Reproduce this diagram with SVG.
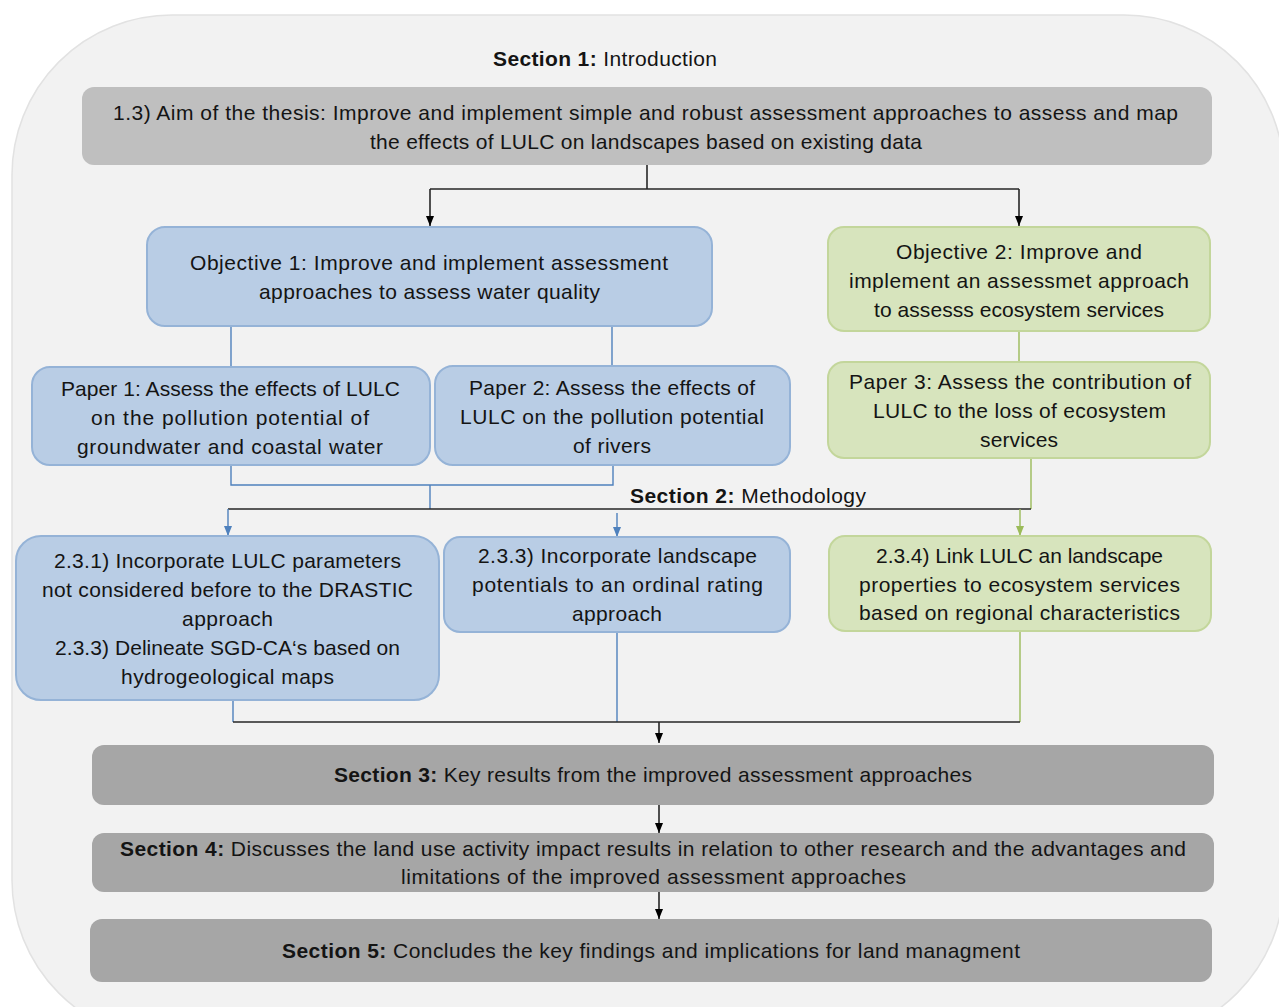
<svg xmlns="http://www.w3.org/2000/svg" width="1279" height="1007" viewBox="0 0 1279 1007">
  <style>
    .t { font-family: "Liberation Sans", Arial, sans-serif; font-size: 21px; fill: #141414; }
    .b { font-weight: bold; }
    .grey { fill: #bfbfbf; }
    .dark { fill: #a6a6a6; }
    .blue { fill: #b9cde5; stroke: #95b3d7; stroke-width: 2; }
    .green { fill: #d7e4bd; stroke: #c3d69b; stroke-width: 2; }
    .cb { fill: none; stroke: #262626; stroke-width: 1.6; }
    .cblue { fill: none; stroke: #4f81bd; stroke-width: 1.4; }
    .cgreen { fill: none; stroke: #9bbb59; stroke-width: 1.4; }
  </style>
  <defs>
    <marker id="ah-black" markerUnits="userSpaceOnUse" markerWidth="10" markerHeight="10" viewBox="0 0 10 10" refX="10" refY="5" orient="auto">
      <path d="M0,1 L10,5 L0,9 z" fill="#000"/>
    </marker>
    <marker id="ah-blue" markerUnits="userSpaceOnUse" markerWidth="10" markerHeight="10" viewBox="0 0 10 10" refX="10" refY="5" orient="auto">
      <path d="M0,1 L10,5 L0,9 z" fill="#4f81bd"/>
    </marker>
    <marker id="ah-green" markerUnits="userSpaceOnUse" markerWidth="10" markerHeight="10" viewBox="0 0 10 10" refX="10" refY="5" orient="auto">
      <path d="M0,1 L10,5 L0,9 z" fill="#9bbb59"/>
    </marker>
  </defs>

  <rect width="1279" height="1007" fill="#ffffff"/>
  <!-- rounded backdrop panel -->
  <rect id="panel" x="12" y="15" width="1272" height="1025" rx="160" ry="160" fill="#f2f2f2" stroke="#e2e2e2" stroke-width="1.5"/>

  <g id="section1-title">
    <text class="t" x="493" y="66" textLength="224"><tspan class="b">Section 1:</tspan> Introduction</text>
  </g>

  <g id="connectors">
    <!-- aim to objectives -->
    <path class="cb" d="M647,165 V189"/>
    <path class="cb" d="M430,189 H1019"/>
    <path class="cb" d="M430,189 V226" marker-end="url(#ah-black)"/>
    <path class="cb" d="M1019,189 V226" marker-end="url(#ah-black)"/>
    <!-- objective 1 to papers -->
    <path class="cblue" d="M231,326 V367"/>
    <path class="cblue" d="M612,326 V366"/>
    <!-- objective 2 to paper 3 -->
    <path class="cgreen" d="M1019,331 V362"/>
    <!-- papers to methodology -->
    <path class="cblue" d="M231,465 V485 H613 V465"/>
    <path class="cblue" d="M430,485 V509"/>
    <path class="cgreen" d="M1031,458 V509"/>
    <path class="cb" d="M228,509 H1031"/>
    <path class="cblue" d="M228,509 V536" marker-end="url(#ah-blue)"/>
    <path class="cblue" d="M617,513 V537" marker-end="url(#ah-blue)"/>
    <path class="cgreen" d="M1020,509 V536" marker-end="url(#ah-green)"/>
    <!-- methodology to results -->
    <path class="cblue" d="M233,700 V722"/>
    <path class="cblue" d="M617,632 V722"/>
    <path class="cgreen" d="M1020,631 V722"/>
    <path class="cb" d="M233,722 H1020"/>
    <path class="cb" d="M659,722 V743" marker-end="url(#ah-black)"/>
    <path class="cb" d="M659,805 V833" marker-end="url(#ah-black)"/>
    <path class="cb" d="M659,892 V919" marker-end="url(#ah-black)"/>
  </g>

  <g id="aim">
    <rect class="grey" x="82" y="87" width="1130" height="78" rx="12"/>
    <text class="t" x="113" y="120" textLength="1065">1.3) Aim of the thesis: Improve and implement simple and robust assessment approaches to assess and map</text>
    <text class="t" x="370" y="149" textLength="552">the effects of LULC on landscapes based on existing data</text>
  </g>

  <g id="objective1">
    <rect class="blue" x="147" y="227" width="565" height="99" rx="18"/>
    <text class="t" x="190" y="270" textLength="478">Objective 1: Improve and implement assessment</text>
    <text class="t" x="259" y="299" textLength="341">approaches to assess water quality</text>
  </g>

  <g id="objective2">
    <rect class="green" x="828" y="227" width="382" height="104" rx="16"/>
    <text class="t" x="896" y="259" textLength="246">Objective 2: Improve and</text>
    <text class="t" x="849" y="288" textLength="340">implement an assessmet approach</text>
    <text class="t" x="874" y="317" textLength="290">to assesss ecosystem services</text>
  </g>

  <g id="paper1">
    <rect class="blue" x="32" y="367" width="398" height="98" rx="18"/>
    <text class="t" x="61" y="396" textLength="339">Paper 1: Assess the effects of LULC</text>
    <text class="t" x="91" y="425" textLength="278">on the pollution potential of</text>
    <text class="t" x="77" y="454" textLength="306">groundwater and coastal water</text>
  </g>

  <g id="paper2">
    <rect class="blue" x="435" y="366" width="355" height="99" rx="18"/>
    <text class="t" x="469" y="395" textLength="286">Paper 2: Assess the effects of</text>
    <text class="t" x="460" y="424" textLength="304">LULC on the pollution potential</text>
    <text class="t" x="573" y="453" textLength="78">of rivers</text>
  </g>

  <g id="paper3">
    <rect class="green" x="828" y="362" width="382" height="96" rx="16"/>
    <text class="t" x="849" y="389" textLength="342">Paper 3: Assess the contribution of</text>
    <text class="t" x="873" y="418" textLength="293">LULC to the loss of  ecosystem</text>
    <text class="t" x="980" y="447" textLength="78">services</text>
  </g>

  <g id="section2-title">
    <text class="t" x="630" y="503" textLength="236"><tspan class="b">Section 2:</tspan> Methodology</text>
  </g>

  <g id="method-231">
    <rect class="blue" x="16" y="536" width="423" height="164" rx="25"/>
    <text class="t" x="54" y="568" textLength="347">2.3.1) Incorporate LULC parameters</text>
    <text class="t" x="42" y="597" textLength="371">not considered before to the DRASTIC</text>
    <text class="t" x="182" y="626" textLength="91">approach</text>
    <text class="t" x="55" y="655" textLength="345">2.3.3) Delineate SGD-CA‘s based on</text>
    <text class="t" x="121" y="684" textLength="213">hydrogeological maps</text>
  </g>

  <g id="method-233">
    <rect class="blue" x="444" y="537" width="346" height="95" rx="16"/>
    <text class="t" x="478" y="563" textLength="279">2.3.3) Incorporate landscape</text>
    <text class="t" x="472" y="592" textLength="291">potentials to an ordinal rating</text>
    <text class="t" x="572" y="621" textLength="90">approach</text>
  </g>

  <g id="method-234">
    <rect class="green" x="829" y="536" width="382" height="95" rx="16"/>
    <text class="t" x="876" y="563" textLength="287">2.3.4) Link LULC an landscape</text>
    <text class="t" x="859" y="592" textLength="321">properties to ecosystem services</text>
    <text class="t" x="859" y="620" textLength="321">based on regional characteristics</text>
  </g>

  <g id="section3">
    <rect class="dark" x="92" y="745" width="1122" height="60" rx="12"/>
    <text class="t" x="334" y="782" textLength="638"><tspan class="b">Section 3:</tspan> Key results from the improved assessment approaches</text>
  </g>

  <g id="section4">
    <rect class="dark" x="92" y="833" width="1122" height="59" rx="12"/>
    <text class="t" x="120" y="856" textLength="1066"><tspan class="b">Section 4:</tspan> Discusses the land use activity impact results in relation to other research and the advantages and</text>
    <text class="t" x="401" y="884" textLength="505">limitations of the improved assessment approaches</text>
  </g>

  <g id="section5">
    <rect class="dark" x="90" y="919" width="1122" height="63" rx="12"/>
    <text class="t" x="282" y="958" textLength="738"><tspan class="b">Section 5:</tspan> Concludes the key findings and implications for land managment</text>
  </g>
</svg>
